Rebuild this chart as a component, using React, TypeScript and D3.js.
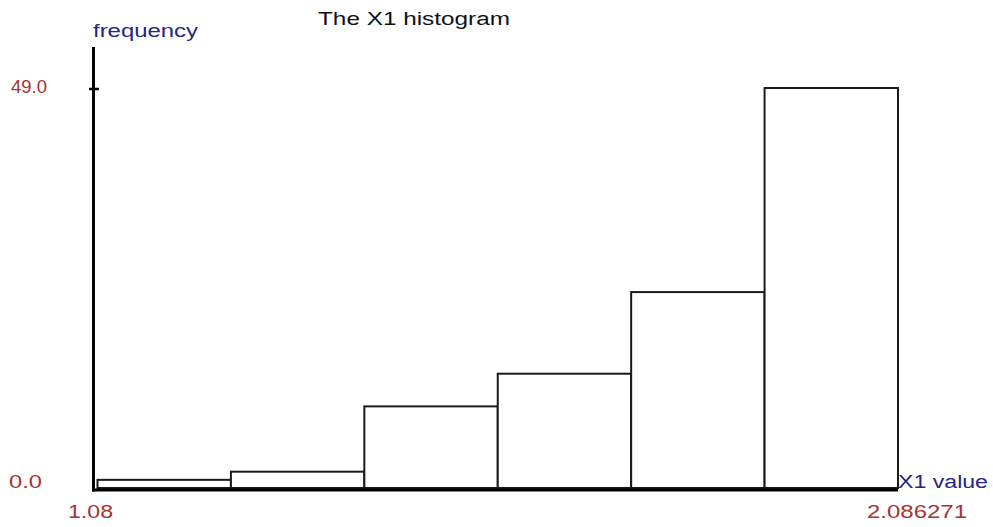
import React from "react";
import * as d3 from "d3";

const xMin = 1.08;
const xMax = 2.086271;
const binCounts = [1, 2, 10, 14, 24, 49];
const yMaxLabel = "49.0";
const yMinLabel = "0.0";
const xMinLabel = "1.08";
const xMaxLabel = "2.086271";
const title = "The X1 histogram";
const yTitle = "frequency";
const xTitle = "X1 value";

const W = 993;
const H = 527;
const RED = "#a83232";
const NAVY = "#262680";
const FONT = "'Liberation Sans', Arial, sans-serif";

export default function App() {
  const x = d3.scaleLinear().domain([xMin, xMax]).range([97.5, 898]);
  const y = d3.scaleLinear().domain([0, 49]).range([488, 88]);
  const binW = (xMax - xMin) / binCounts.length;
  const bins = binCounts.map((c, i) => ({
    x0: xMin + i * binW,
    x1: xMin + (i + 1) * binW,
    c,
  }));
  const axisX = 93.5;
  const axisY = 490;

  return (
    <svg
      width={W}
      height={H}
      style={{ position: "absolute", left: 0, top: 0, background: "#fff" }}
    >
      <rect x={0} y={0} width={W} height={H} fill="#fff" />
      {bins.map((b, i) => (
        <rect
          key={i}
          x={x(b.x0)}
          y={y(b.c)}
          width={x(b.x1) - x(b.x0)}
          height={y(0) - y(b.c)}
          fill="#fff"
          stroke="#1a1a1a"
          strokeWidth={2}
        />
      ))}
      {/* axes */}
      <line x1={axisX} x2={axisX} y1={47} y2={491.5} stroke="#000" strokeWidth={3} />
      <line x1={axisX - 1.5} x2={x(xMax)} y1={axisY} y2={axisY} stroke="#000" strokeWidth={3} />
      <line x1={89} x2={99} y1={y(49) + 1} y2={y(49) + 1} stroke="#000" strokeWidth={2.5} />

      {/* texts */}
      <g fontFamily={FONT} fontSize={18}>
        <text x={318} y={25} fill="#111" textLength={192} lengthAdjust="spacingAndGlyphs">
          {title}
        </text>
        <text x={93} y={37} fill={NAVY} textLength={105} lengthAdjust="spacingAndGlyphs">
          {yTitle}
        </text>
        <text x={11} y={93} fill={RED} textLength={36} lengthAdjust="spacingAndGlyphs">
          {yMaxLabel}
        </text>
        <text x={9} y={488} fill={RED} textLength={33} lengthAdjust="spacingAndGlyphs">
          {yMinLabel}
        </text>
        <text x={68} y={518} fill={RED} textLength={45} lengthAdjust="spacingAndGlyphs">
          {xMinLabel}
        </text>
        <text x={867} y={518} fill={RED} textLength={100} lengthAdjust="spacingAndGlyphs">
          {xMaxLabel}
        </text>
        <text x={898} y={488} fill={NAVY} textLength={90} lengthAdjust="spacingAndGlyphs">
          {xTitle}
        </text>
      </g>
    </svg>
  );
}
